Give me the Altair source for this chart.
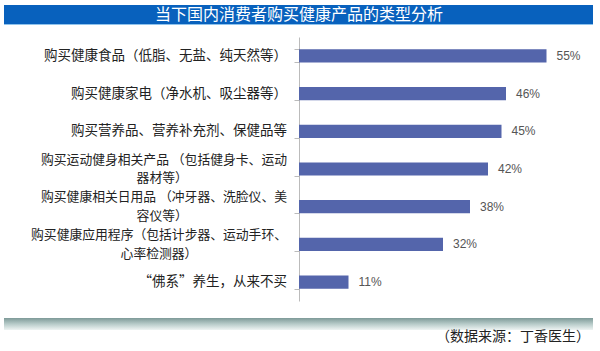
import altair as alt
import pandas as pd

title_text = "当下国内消费者购买健康产品的类型分析"
source_text = "（数据来源：丁香医生）"

categories = ["c1", "c2", "c3", "c4", "c5", "c6", "c7"]
label_line1 = [
    "购买健康食品（低脂、无盐、纯天然等）",
    "购买健康家电（净水机、吸尘器等）",
    "购买营养品、营养补充剂、保健品等",
    "购买运动健身相关产品 （包括健身卡、运动",
    "购买健康相关日用品 （冲牙器、洗脸仪、美",
    "购买健康应用程序（包括计步器、运动手环、",
    "“佛系”养生，从来不买",
]
label_line2 = ["", "", "", "器材等）", "容仪等）", "心率检测器）", ""]
values = [55, 46, 45, 42, 38, 32, 11]

FS = 13.5
FS2 = 12.8
LABEL_RIGHT = -12


def text_width(s, fs):
    return sum(fs * (0.5 if ch == " " else 1.0) for ch in s)


df = pd.DataFrame({
    "cat": categories,
    "line1": label_line1,
    "line2": label_line2,
    "value": values,
})
df["pct"] = df["value"].astype(str) + "%"
df["two"] = df["line2"] != ""
df["x2pos"] = [LABEL_RIGHT - text_width(s, FS2) / 2 for s in label_line1]

ysc = alt.Scale(domain=categories, paddingInner=0.65, paddingOuter=0.325)
xsc = alt.Scale(domain=[0, 60], nice=False, zero=True)

base = alt.Chart(df)

bars = base.mark_bar(color="#5465AB").encode(
    y=alt.Y("cat:N", scale=ysc, sort=categories,
            axis=alt.Axis(labels=False, title=None, ticks=True, tickBand="extent",
                          tickSize=5, tickColor="#BBBBBB", domainColor="#BBBBBB",
                          grid=False)),
    x=alt.X("value:Q", scale=xsc, axis=None),
)

pct = base.mark_text(align="left", baseline="middle", dx=10, fontSize=12,
                     font="Liberation Sans", color="#555555").encode(
    y=alt.Y("cat:N", scale=ysc, sort=categories),
    x=alt.X("value:Q", scale=xsc),
    text="pct:N",
)

single = base.transform_filter("!datum.two").mark_text(
    align="right", baseline="middle", fontSize=FS, font="Noto Sans CJK SC", color="#222222"
).encode(
    y=alt.Y("cat:N", scale=ysc, sort=categories),
    x=alt.value(LABEL_RIGHT),
    text="line1:N",
)

l1 = base.transform_filter("datum.two").mark_text(
    align="right", baseline="middle", dy=-9.4, fontSize=FS2, font="Noto Sans CJK SC", color="#222222"
).encode(
    y=alt.Y("cat:N", scale=ysc, sort=categories),
    x=alt.value(LABEL_RIGHT),
    text="line1:N",
)

l2 = base.transform_filter("datum.two").mark_text(
    align="center", baseline="middle", dy=9.4, fontSize=FS2, font="Noto Sans CJK SC", color="#222222"
).encode(
    y=alt.Y("cat:N", scale=ysc, sort=categories),
    x=alt.X("x2pos:Q", scale=None),
    text="line2:N",
)

one = pd.DataFrame({"t": [title_text], "s": [source_text]})
deco = alt.Chart(one)

title_bar = deco.mark_rect(color="#0861BD").encode(
    x=alt.value(-295), x2=alt.value(294), y=alt.value(-32), y2=alt.value(-13)
)
title_line = deco.mark_rect(color="#8FC3EC").encode(
    x=alt.value(-295), x2=alt.value(294), y=alt.value(-13), y2=alt.value(-12)
)
title_txt = deco.mark_text(align="center", baseline="middle", fontSize=16,
                           font="Noto Sans CJK SC", color="white").encode(
    x=alt.value(0), y=alt.value(-22), text="t:N"
)

grad = alt.Gradient(
    gradient="linear",
    stops=[alt.GradientStop(color="#7E9A98", offset=0),
           alt.GradientStop(color="#B7CBC9", offset=0.5),
           alt.GradientStop(color="#EEF4F3", offset=1)],
    x1=0, x2=0, y1=0, y2=1,
)
bottom_bar = deco.mark_rect(fill=grad).encode(
    x=alt.value(-295), x2=alt.value(294), y=alt.value(281), y2=alt.value(293)
)
source = deco.mark_text(align="right", baseline="middle", fontSize=14,
                        font="Noto Sans CJK SC", color="#222222").encode(
    x=alt.value(291), y=alt.value(300), text="s:N"
)

chart = alt.layer(
    title_bar, title_line, title_txt, bottom_bar, source,
    bars, pct, single, l1, l2
).properties(
    width=270, height=264,
    autosize=alt.AutoSizeParams(type="none"),
    padding={"left": 299, "top": 37, "right": 31, "bottom": 50},
    background="white",
).configure_view(stroke=None)

chart.save("out.html", embed_options={"renderer": "svg", "actions": False})
